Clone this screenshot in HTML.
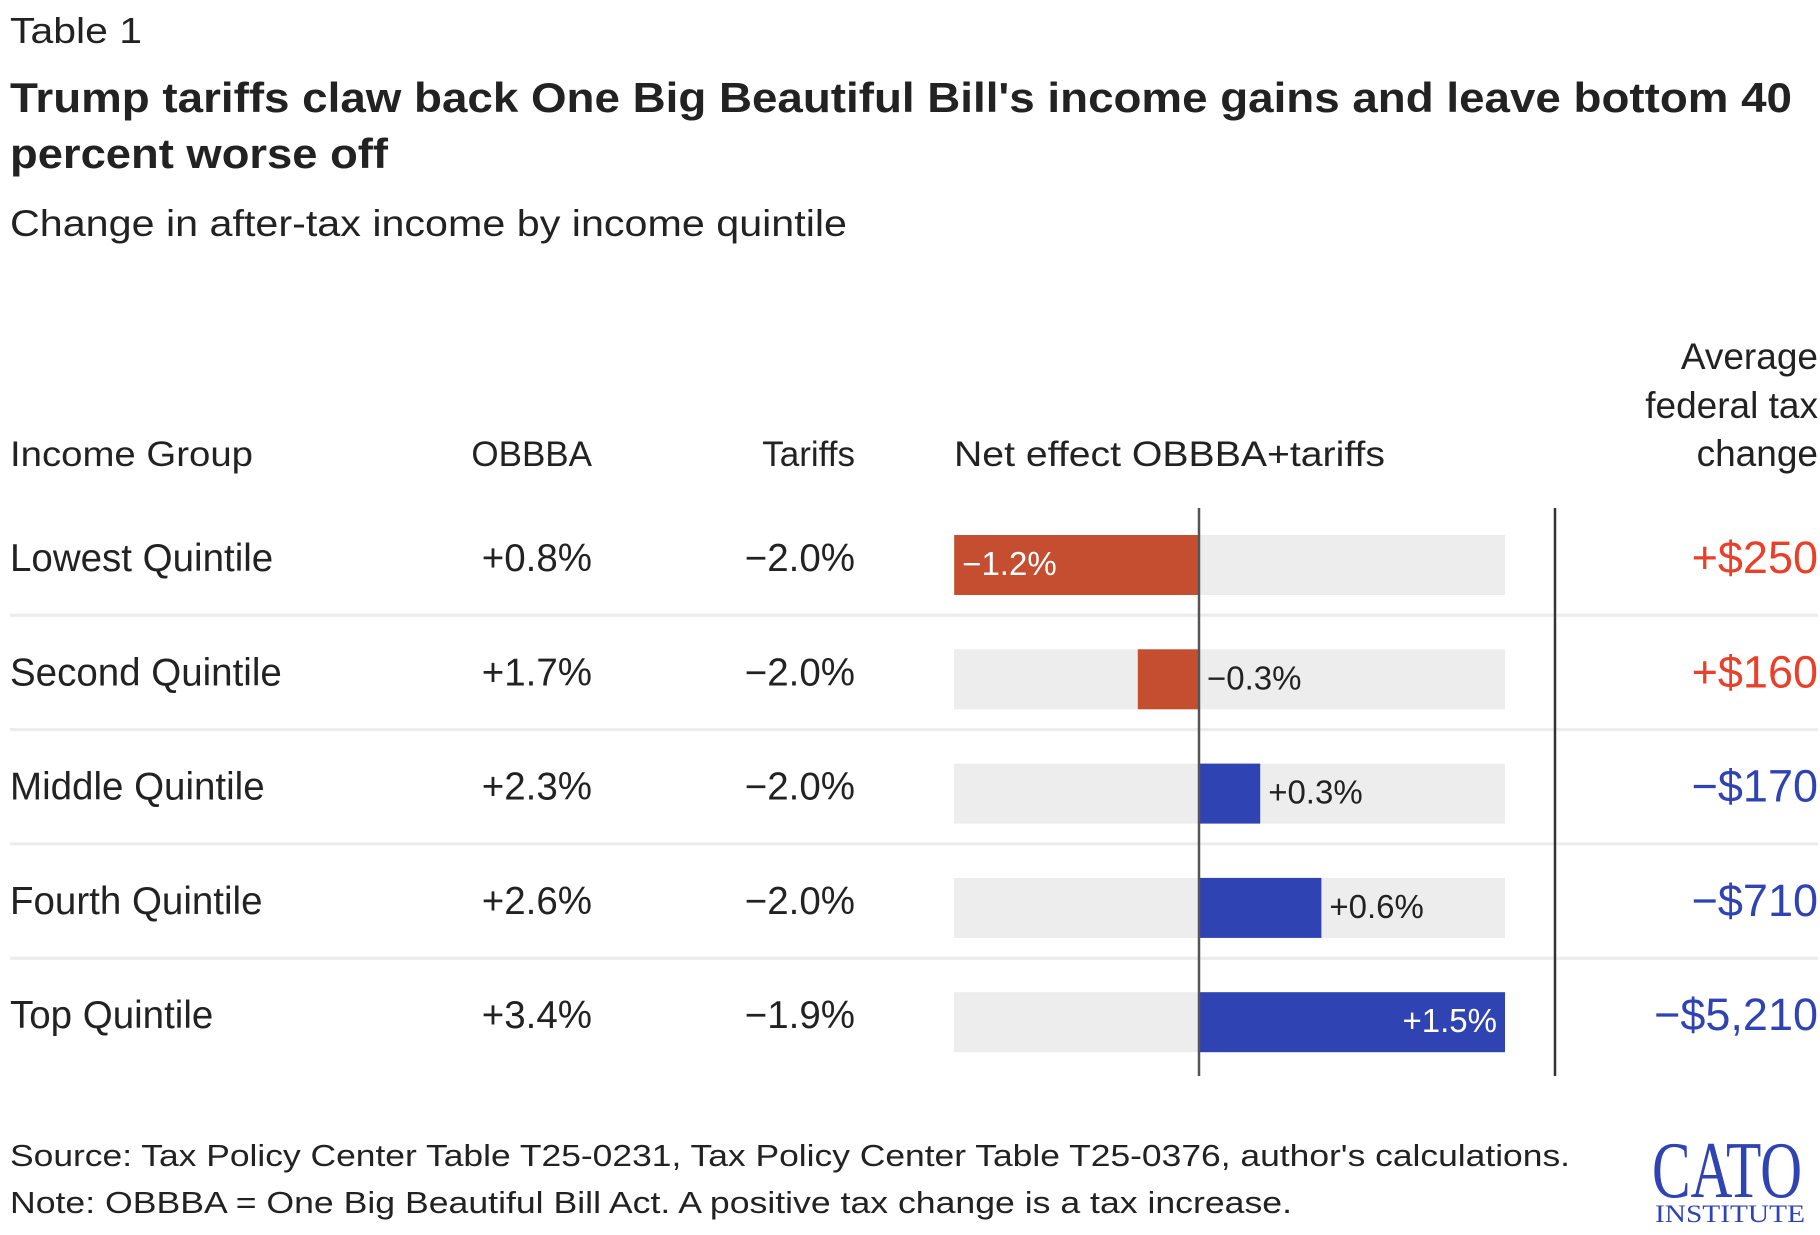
<!DOCTYPE html>
<html><head><meta charset="utf-8"><style>
html,body{margin:0;padding:0;background:#fff;}
svg{display:block;}
text{font-family:"Liberation Sans",sans-serif;fill:#222;}
</style></head><body>
<svg id="chart" width="1820" height="1235" viewBox="0 0 1820 1235">
<text x="10" y="43" font-size="36" textLength="132" lengthAdjust="spacingAndGlyphs">Table 1</text>
<text x="10" y="112" font-size="42" font-weight="bold" textLength="1782" lengthAdjust="spacingAndGlyphs">Trump tariffs claw back One Big Beautiful Bill's income gains and leave bottom 40</text>
<text x="10" y="168" font-size="42" font-weight="bold" textLength="378" lengthAdjust="spacingAndGlyphs">percent worse off</text>
<text x="10" y="236" font-size="37" textLength="837" lengthAdjust="spacingAndGlyphs">Change in after-tax income by income quintile</text>
<text x="10" y="466" font-size="35" textLength="243" lengthAdjust="spacingAndGlyphs">Income Group</text>
<text x="592" y="466" font-size="35" text-anchor="end">OBBBA</text>
<text x="855" y="466" font-size="35" text-anchor="end">Tariffs</text>
<text x="954" y="466" font-size="35" textLength="431" lengthAdjust="spacingAndGlyphs">Net effect OBBBA+tariffs</text>
<text x="1818" y="369" font-size="37" text-anchor="end">Average</text>
<text x="1818" y="418" font-size="37" text-anchor="end">federal tax</text>
<text x="1818" y="466" font-size="37" text-anchor="end">change</text>
<g id="rows"></g>
<line x1="1199" y1="508" x2="1199" y2="1076" stroke="#555" stroke-width="2.5"/>
<line x1="1555" y1="508" x2="1555" y2="1076" stroke="#333" stroke-width="2.5"/>
<text x="10" y="1166" font-size="31" textLength="1560" lengthAdjust="spacingAndGlyphs">Source: Tax Policy Center Table T25-0231, Tax Policy Center Table T25-0376, author's calculations.</text>
<text x="10" y="1213" font-size="31" textLength="1282" lengthAdjust="spacingAndGlyphs">Note: OBBBA = One Big Beautiful Bill Act. A positive tax change is a tax increase.</text>
<g>
<text x="1652" y="1197" font-size="80" textLength="150" lengthAdjust="spacingAndGlyphs" style="fill:#2F44B2;font-family:'Liberation Serif',serif">CATO</text>
<text x="1655" y="1222" font-size="25" textLength="150" lengthAdjust="spacingAndGlyphs" style="fill:#2F44B2;font-family:'Liberation Serif',serif">INSTITUTE</text>
</g>
</svg>
<script>
const groups = ["Lowest Quintile","Second Quintile","Middle Quintile","Fourth Quintile","Top Quintile"];
const obbba = ["+0.8%","+1.7%","+2.3%","+2.6%","+3.4%"];
const tariffs = ["\u22122.0%","\u22122.0%","\u22122.0%","\u22122.0%","\u22121.9%"];
const netEffect = [-1.2,-0.3,0.3,0.6,1.5];
const avgTaxChange = ["+$250","+$160","\u2212$170","\u2212$710","\u2212$5,210"];

const NS="http://www.w3.org/2000/svg";
const g=document.getElementById('rows');
const x0=1199, pxPerPct=(1505-1199)/1.5, grayL=954, grayR=1505;
function xs(v){return x0+v*pxPerPct;}
function rowY(i){return 558+i*114.3;}
function mk(tag,attrs,txt){const e=document.createElementNS(NS,tag);for(const k in attrs)e.setAttribute(k,attrs[k]);if(txt!==undefined)e.textContent=txt;g.appendChild(e);return e;}
function fmt(v){return (v<0?"\u2212":"+")+Math.abs(v).toFixed(1)+"%";}
groups.forEach((name,i)=>{
  const cy=rowY(i), by=cy+13;
  if(i>0){
    const s=mk('line',{x1:10,x2:1818,y1:cy-57,y2:cy-57,stroke:'#ececec','stroke-width':3});
    
    
  }
  const t1=mk('text',{x:10,y:by,'font-size':38.5},name);
  
  
  const t2=mk('text',{x:592,y:by,'font-size':38.5,'text-anchor':'end'},obbba[i]);
  
  
  const t3=mk('text',{x:855,y:by,'font-size':38.5,'text-anchor':'end'},tariffs[i]);
  
  
  const bg=mk('rect',{x:grayL,y:cy-23,width:grayR-grayL,height:60,fill:'#ededed'});
  
  
  const v=netEffect[i];
  const xa=Math.min(xs(0),xs(v)), w=Math.abs(xs(v)-xs(0));
  const bar=mk('rect',{x:xa,y:cy-23,width:w,height:60,fill:v<0?'#C44E2F':'#2F44B2'});
  
  
  const inside=w>150;
  let lx,anchor,fill;
  if(inside){ if(v<0){lx=xa+8;anchor='start';}else{lx=xa+w-8;anchor='end';} fill='#fff'; }
  else { lx=(v<0?xs(0):xs(v))+8; anchor='start'; fill='#222'; }
  const lab=mk('text',{x:lx,y:cy+17,'font-size':33,'text-anchor':anchor,style:'fill:'+fill},fmt(v));
  
  
  const pos=avgTaxChange[i].charAt(0)==='+';
  const a=mk('text',{x:1818,y:by+2,'font-size':45,'text-anchor':'end',style:'fill:'+(pos?'#E8402A':'#2F44B2')},avgTaxChange[i]);
  
  
});
</script>
</body></html>
